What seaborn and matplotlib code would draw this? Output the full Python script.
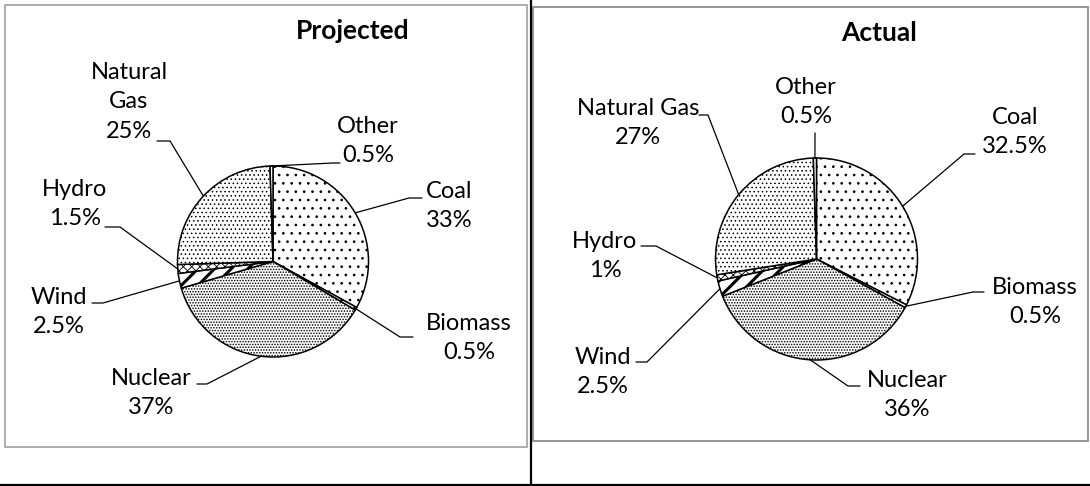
import numpy as np
import matplotlib
matplotlib.use("Agg")
import matplotlib.pyplot as plt
from matplotlib.patches import Rectangle
from matplotlib.lines import Line2D
import seaborn as sns

# ---------------- data ----------------
categories = ["Coal", "Biomass", "Nuclear", "Wind", "Hydro", "Natural Gas", "Other"]
projected_values = [33, 0.5, 37, 2.5, 1.5, 25, 0.5]
actual_values = [32.5, 0.5, 36, 2.5, 1, 27, 0.5]
projected_names = ["Coal", "Biomass", "Nuclear", "Wind", "Hydro", "Natural\nGas", "Other"]
actual_names = ["Coal", "Biomass", "Nuclear", "Wind", "Hydro", "Natural Gas", "Other"]
titles = ["Projected", "Actual"]

# ---------------- style ----------------
sns.set_theme(style="white")
plt.rcParams["font.family"] = ["Lato", "DejaVu Sans"]
plt.rcParams["hatch.linewidth"] = 0.6

W, H = 1090, 486
FS = 17
TFS = 19
LS = 1.5

hatches = ["..", "..", "......", "//", "xxxx", "....", ""]
hatch_lw = [0.7, 0.7, 0.75, 2.2, 0.6, 0.6, 0.6]

fig = plt.figure(figsize=(W / 100, H / 100), dpi=100)
ax = fig.add_axes([0, 0, 1, 1])
ax.set_axis_off()


def Y(y):
    return H - y


panels = [
    dict(values=projected_values, names=projected_names, title=titles[0],
         center=(273, 261.5), radius=95.5, title_pos=(353, 31),
         box=(5, 5, 527, 447), box_color="#a6a6a6",
         label_pos=[(449, 206), (469, 338), (151, 393), (59, 312), (75, 204), (129, 102), (368, 141)],
         leader=[(422, 409, 198), (413, 400, 337), (197, 207, 384), (92, 103, 303),
                 (105, 120, 227), (157, 170, 141), (340, 333, 163)]),
    dict(values=actual_values, names=actual_names, title=titles[1],
         center=(816.5, 259), radius=101, title_pos=(879, 33),
         box=(533, 7, 1088, 441), box_color="#8f8f8f",
         label_pos=[(1015, 132), (1035, 302), (907, 395), (603, 372), (605, 256), (638, 123), (806, 102)],
         leader=[(975, 964, 154), (984, 973, 292), (860, 848, 386), (636, 647, 362),
                 (641, 656, 246), (699, 708, 115), (815, 815, 133)]),
]

for p in panels:
    x0, y0, x1, y1 = p["box"]
    ax.add_patch(Rectangle((x0, Y(y1)), x1 - x0, y1 - y0, fill=False,
                           edgecolor=p["box_color"], linewidth=1.3, zorder=1))

    cx, cy = p["center"]
    wedges, _ = ax.pie(p["values"], startangle=90, counterclock=False,
                       center=(cx, Y(cy)), radius=p["radius"],
                       colors=["white"] * len(p["values"]),
                       hatch=hatches,
                       wedgeprops=dict(edgecolor="black", linewidth=1.1),
                       frame=True)
    for w, lw in zip(wedges, hatch_lw):
        if hasattr(w, "set_hatch_linewidth"):
            w.set_hatch_linewidth(lw)
        w.set_zorder(3)

    for w, name, val, (lx, ly), (hx, ex, ey) in zip(
            wedges, p["names"], p["values"], p["label_pos"], p["leader"]):
        mid = np.deg2rad((w.theta1 + w.theta2) / 2)
        axp = cx + p["radius"] * np.cos(mid)
        ayp = Y(cy) + p["radius"] * np.sin(mid)
        ax.add_line(Line2D([hx, ex, axp], [Y(ey), Y(ey), ayp], color="black",
                           linewidth=0.9, zorder=4, solid_joinstyle="miter"))
        ax.text(lx, Y(ly), f"{name}\n{val:g}%", ha="center", va="center",
                multialignment="center", fontsize=FS, linespacing=LS,
                color="black", zorder=5)

    tx, ty = p["title_pos"]
    ax.text(tx, Y(ty), p["title"], ha="center", va="center", fontsize=TFS,
            fontweight="bold", color="black", zorder=5)

# separator lines
ax.add_line(Line2D([531, 531], [Y(0), Y(486)], color="black", linewidth=1.6, zorder=6))
ax.add_line(Line2D([0, W], [Y(485), Y(485)], color="black", linewidth=1.6, zorder=6))

ax.set_xlim(0, W)
ax.set_ylim(0, H)
ax.set_aspect("equal", adjustable="box")
ax.set_axis_off()

fig.savefig("out.png", dpi=100, facecolor="white")
